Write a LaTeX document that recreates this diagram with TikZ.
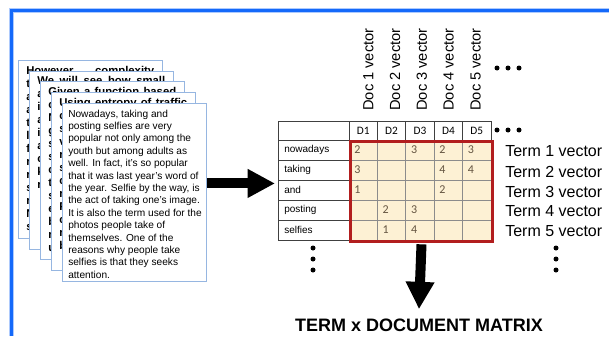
\documentclass[tikz,border=0pt]{standalone}
\usepackage{fontspec}
\setmainfont{Liberation Sans}
\newfontfamily\calfont{Carlito}
\usetikzlibrary{arrows.meta}

\definecolor{frameblue}{RGB}{20,105,250}
\definecolor{pageblue}{RGB}{150,182,225}
\definecolor{cellfill}{RGB}{253,241,212}
\definecolor{boxred}{RGB}{178,30,30}
\definecolor{numcol}{RGB}{100,85,65}

\tikzset{
  docpage/.style={draw=pageblue, line width=0.9pt, fill=white, anchor=north west,
    minimum width=108pt, minimum height=133.5pt, inner sep=0pt},
  backtext/.style={anchor=north west, inner sep=0pt, align=left,
    font=\bfseries\fontsize{8.5}{9.75}\selectfont},
  doctext/.style={anchor=north west, inner sep=0pt, align=left,
    font=\fontsize{7.6}{9.3}\selectfont},
  tabline/.style={draw=black!75, line width=0.6pt},
  cellline/.style={draw=black!45, line width=0.6pt},
  redbox/.style={draw=boxred, line width=2.25pt, anchor=north west, inner sep=0pt,
    minimum width=106.5pt, minimum height=75pt},
  hdr/.style={font=\calfont\fontsize{8.5}{10}\selectfont, inner sep=0pt},
  rowlbl/.style={anchor=west, inner sep=0pt, font=\fontsize{7.5}{9}\selectfont},
  cellval/.style={anchor=west, inner sep=0pt, text=numcol, font=\calfont\fontsize{9}{10}\selectfont},
  vec/.style={inner sep=0pt, font=\fontsize{12}{14}\selectfont},
  docvec/.style={inner sep=0pt, rotate=90, anchor=base west, font=\fontsize{11}{13}\selectfont},
  bigarrow/.style={line width=7.5pt, -{Triangle[length=20.5pt, width=20.25pt]}},
  mtxtitle/.style={inner sep=0pt, anchor=base, font=\bfseries\fontsize{13.5}{16}\selectfont},
}

\begin{document}
\begin{tikzpicture}[x=0.75pt, y=-0.75pt]
  \useasboundingbox[fill=white] (0,0) rectangle (609,336);

  % frame
  \draw[frameblue!35, line width=3.4pt] (11.5,336) -- (11.5,10.5) -- (609,10.5);
  \draw[frameblue, line width=2.2pt] (11.5,336) -- (11.5,10.5) -- (609,10.5);

  % stack of documents
  \node[docpage] (p1) at (18,60) {};
  \node[backtext] (txt1) at (26,66) {\makebox[96pt][s]{However, complexity}\\
    t\\ a\\ a\\ t\\ l\\ f\\ r\\ r\\ s\\ r\\ N\\ s};
  \node[docpage] (p2) at (29,70.5) {};
  \node[backtext] (txt2) at (37,76.5) {\makebox[96pt][s]{We will see how small}\\
    a\\ i\\ a\\ i\\ a\\ c\\ k\\ r};
  \node[docpage] (p3) at (40,81) {};
  \node[backtext] (txt3) at (48,87) {\makebox[96pt][s]{Given a function based}\\
    c\\ N\\ g\\ s\\ s\\ c\\ t\\ s\\ e\\ b\\ r\\ u};
  \node[docpage] (p4) at (51,92) {};
  \node[backtext] (txt4) at (59,98) {\makebox[96pt][s]{Using entropy of traffic}\\
    c\\ s\\ v\\ r\\ s\\ c\\ r\\ P\\ c\\ r\\ b};
  \node[docpage] (p5) at (62,103) {};
  \node[doctext] (txt5) at (68,109.5) {Nowadays, taking and\\
    posting selfies are very\\
    popular not only among the\\
    youth but among adults as\\
    well. In fact, it's so popular\\
    that it was last year's word of\\
    the year. Selfie by the way, is\\
    the act of taking one's image.\\
    It is also the term used for the\\
    photos people take of\\
    themselves. One of the\\
    reasons why people take\\
    selfies is that they seeks\\
    attention.};

  % term x document table
  \fill[cellfill] (349,140) rectangle (491,240);
  \node[tabline, anchor=north west, inner sep=0pt, minimum width=159.75pt,
    minimum height=89.25pt] (tbl) at (278,121) {};
  \foreach \y in {140,160,180,200,220}
    \draw[tabline] (278,\y) -- (349,\y);
  \foreach \x in {349,377.4,405.8,434.2,462.6}
    \draw[tabline] (\x,121) -- (\x,140);
  \foreach \x in {377.4,405.8,434.2,462.6}
    \draw[cellline] (\x,140) -- (\x,240);
  \foreach \y in {160,180,200,220}
    \draw[cellline] (349,\y) -- (491,\y);
  \node[redbox] (cells) at (349,140) {};

  \foreach \i in {1,...,5}
    \node[hdr] (d\i) at ({349+28.4*(\i-0.5)},131) {D\i};
  \foreach \w [count=\i] in {nowadays,taking,and,posting,selfies}
    \node[rowlbl] (w\i) at (284,{130+20*\i}) {\w};
  \foreach \c/\r/\v in {1/1/2,3/1/3,4/1/2,5/1/3,1/2/3,4/2/4,5/2/4,1/3/1,4/3/2,2/4/2,3/4/3,2/5/1,3/5/4}
    \node[cellval] (v\c\r) at ({349+28.4*(\c-1)+5},{130+20*\r}) {\v};

  % vector labels
  \foreach \i in {1,...,5}
    \node[docvec] (dv\i) at ({373.3+26.8*(\i-1)},111) {Doc \i\ vector};
  \foreach \i in {1,...,5}
    \node[vec, anchor=west] (tv\i) at (505,{131.5+20*\i}) {Term \i\ vector};

  % continuation dots
  \foreach \x in {497,508,519} {
    \fill (\x,68) circle (2.5);
    \fill (\x,130) circle (2.5);
  }
  \foreach \y in {248,259,270} {
    \fill (313,\y) circle (2.5);
    \fill (556,\y) circle (2.5);
  }

  % arrows and title
  \node[mtxtitle] (mtx) at (419,331) {TERM x DOCUMENT MATRIX};
  \coordinate (arrin) at ([yshift=-1.9pt]tbl.west);
  \draw[bigarrow] (p5.east |- arrin) -- ([xshift=-2.25pt]arrin);
  \draw[bigarrow] ([yshift=-1pt]cells.south) -- ([yshift=6.75pt]mtx.north);
\end{tikzpicture}
\end{document}
